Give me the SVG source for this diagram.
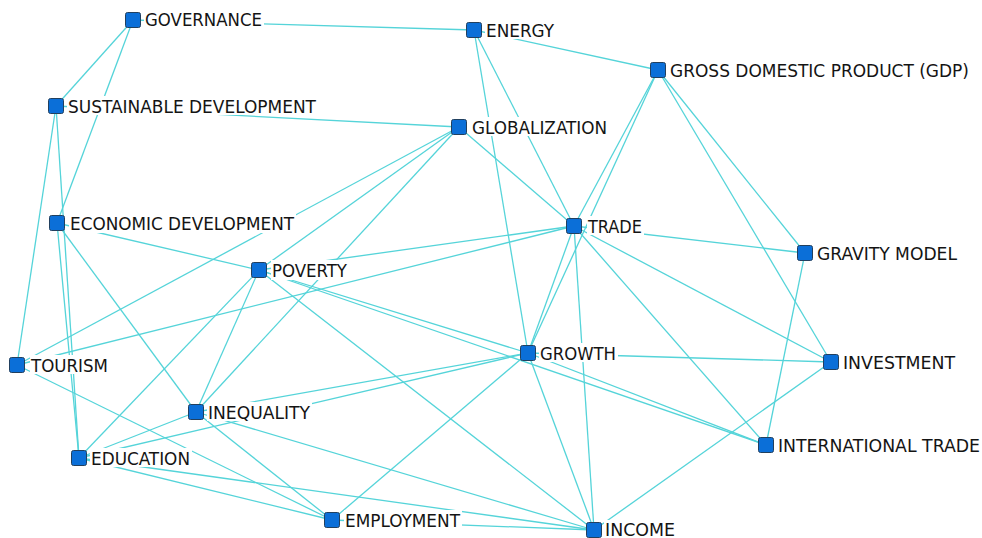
<svg xmlns="http://www.w3.org/2000/svg" width="982" height="538" viewBox="0 0 982 538">
<style>
.edge line{stroke:#55d4d9;stroke-width:1.3;fill:none}
.bg{fill:#ffffff}
.sq{fill:#0b6fd8;stroke:#22405e;stroke-width:1}
.lb{font-family:"DejaVu Sans Condensed","Liberation Sans",Tahoma,Arial,sans-serif;font-size:17.5px;fill:#141414}
</style>
<rect width="982" height="538" fill="#ffffff"/>
<g id="edges" class="edge">
<line x1="133" y1="20" x2="474" y2="30"/>
<line x1="133" y1="20" x2="56" y2="106"/>
<line x1="133" y1="20" x2="57" y2="223"/>
<line x1="56" y1="106" x2="459" y2="127"/>
<line x1="56" y1="106" x2="17" y2="365"/>
<line x1="56" y1="106" x2="79" y2="458"/>
<line x1="474" y1="30" x2="658" y2="70"/>
<line x1="474" y1="30" x2="528" y2="353"/>
<line x1="474" y1="30" x2="574" y2="226"/>
<line x1="459" y1="127" x2="574" y2="226"/>
<line x1="459" y1="127" x2="17" y2="365"/>
<line x1="459" y1="127" x2="259" y2="270"/>
<line x1="459" y1="127" x2="196" y2="412"/>
<line x1="658" y1="70" x2="574" y2="226"/>
<line x1="658" y1="70" x2="528" y2="353"/>
<line x1="658" y1="70" x2="805" y2="253"/>
<line x1="658" y1="70" x2="831" y2="362"/>
<line x1="57" y1="223" x2="259" y2="270"/>
<line x1="57" y1="223" x2="79" y2="458"/>
<line x1="57" y1="223" x2="196" y2="412"/>
<line x1="574" y1="226" x2="259" y2="270"/>
<line x1="574" y1="226" x2="17" y2="365"/>
<line x1="574" y1="226" x2="805" y2="253"/>
<line x1="574" y1="226" x2="831" y2="362"/>
<line x1="574" y1="226" x2="766" y2="445"/>
<line x1="574" y1="226" x2="528" y2="353"/>
<line x1="574" y1="226" x2="594" y2="530"/>
<line x1="528" y1="353" x2="259" y2="270"/>
<line x1="528" y1="353" x2="831" y2="362"/>
<line x1="528" y1="353" x2="766" y2="445"/>
<line x1="528" y1="353" x2="594" y2="530"/>
<line x1="528" y1="353" x2="332" y2="520"/>
<line x1="528" y1="353" x2="196" y2="412"/>
<line x1="528" y1="353" x2="79" y2="458"/>
<line x1="259" y1="270" x2="766" y2="445"/>
<line x1="259" y1="270" x2="594" y2="530"/>
<line x1="259" y1="270" x2="79" y2="458"/>
<line x1="259" y1="270" x2="196" y2="412"/>
<line x1="196" y1="412" x2="79" y2="458"/>
<line x1="196" y1="412" x2="332" y2="520"/>
<line x1="196" y1="412" x2="594" y2="530"/>
<line x1="79" y1="458" x2="332" y2="520"/>
<line x1="79" y1="458" x2="594" y2="530"/>
<line x1="332" y1="520" x2="594" y2="530"/>
<line x1="17" y1="365" x2="332" y2="520"/>
<line x1="805" y1="253" x2="766" y2="445"/>
<line x1="831" y1="362" x2="594" y2="530"/>
</g>
<g id="n-governance"><rect class="bg" x="144" y="10" width="120" height="19"/><rect class="sq" x="125.5" y="12.5" width="15" height="15" rx="2"/><text class="lb" x="145" y="26" textLength="117" lengthAdjust="spacingAndGlyphs">GOVERNANCE</text></g>
<g id="n-sustainable-development"><rect class="bg" x="67" y="96" width="251" height="19"/><rect class="sq" x="48.5" y="98.5" width="15" height="15" rx="2"/><text class="lb" x="68" y="112.5" textLength="248" lengthAdjust="spacingAndGlyphs">SUSTAINABLE DEVELOPMENT</text></g>
<g id="n-energy"><rect class="bg" x="485" y="20" width="71" height="19"/><rect class="sq" x="466.5" y="22.5" width="15" height="15" rx="2"/><text class="lb" x="486" y="36.5" textLength="68" lengthAdjust="spacingAndGlyphs">ENERGY</text></g>
<g id="n-globalization"><rect class="bg" x="471" y="117" width="138" height="19"/><rect class="sq" x="451.5" y="119.5" width="15" height="15" rx="2"/><text class="lb" x="472" y="133.5" textLength="135" lengthAdjust="spacingAndGlyphs">GLOBALIZATION</text></g>
<g id="n-gdp"><rect class="bg" x="669" y="60" width="302" height="19"/><rect class="sq" x="650.5" y="62.5" width="15" height="15" rx="2"/><text class="lb" x="670" y="76.5" textLength="299" lengthAdjust="spacingAndGlyphs">GROSS DOMESTIC PRODUCT (GDP)</text></g>
<g id="n-economic-development"><rect class="bg" x="69" y="213" width="227" height="20"/><rect class="sq" x="49.5" y="215.5" width="15" height="15" rx="2"/><text class="lb" x="70" y="229.5" textLength="224" lengthAdjust="spacingAndGlyphs">ECONOMIC DEVELOPMENT</text></g>
<g id="n-poverty"><rect class="bg" x="271" y="260" width="78" height="20"/><rect class="sq" x="251.5" y="262.5" width="15" height="15" rx="2"/><text class="lb" x="272" y="276.5" textLength="75" lengthAdjust="spacingAndGlyphs">POVERTY</text></g>
<g id="n-trade"><rect class="bg" x="587" y="216" width="57" height="19"/><rect class="sq" x="566.5" y="218.5" width="15" height="15" rx="2"/><text class="lb" x="588" y="232.5" textLength="54" lengthAdjust="spacingAndGlyphs">TRADE</text></g>
<g id="n-gravity-model"><rect class="bg" x="816" y="243" width="143" height="19"/><rect class="sq" x="797.5" y="245.5" width="15" height="15" rx="2"/><text class="lb" x="817" y="259.5" textLength="140" lengthAdjust="spacingAndGlyphs">GRAVITY MODEL</text></g>
<g id="n-growth"><rect class="bg" x="539" y="343" width="79" height="19"/><rect class="sq" x="520.5" y="345.5" width="15" height="15" rx="2"/><text class="lb" x="540" y="359.5" textLength="76" lengthAdjust="spacingAndGlyphs">GROWTH</text></g>
<g id="n-investment"><rect class="bg" x="842" y="352" width="115" height="19"/><rect class="sq" x="823.5" y="354.5" width="15" height="15" rx="2"/><text class="lb" x="843" y="368.5" textLength="112" lengthAdjust="spacingAndGlyphs">INVESTMENT</text></g>
<g id="n-international-trade"><rect class="bg" x="777" y="435" width="205" height="19"/><rect class="sq" x="758.5" y="437.5" width="15" height="15" rx="2"/><text class="lb" x="778" y="451.5" textLength="202" lengthAdjust="spacingAndGlyphs">INTERNATIONAL TRADE</text></g>
<g id="n-tourism"><rect class="bg" x="30" y="355" width="80" height="19"/><rect class="sq" x="9.5" y="357.5" width="15" height="15" rx="2"/><text class="lb" x="31" y="371.5" textLength="77" lengthAdjust="spacingAndGlyphs">TOURISM</text></g>
<g id="n-inequality"><rect class="bg" x="207" y="402" width="105" height="19"/><rect class="sq" x="188.5" y="404.5" width="15" height="15" rx="2"/><text class="lb" x="208" y="418.5" textLength="102" lengthAdjust="spacingAndGlyphs">INEQUALITY</text></g>
<g id="n-education"><rect class="bg" x="90" y="448" width="102" height="19"/><rect class="sq" x="71.5" y="450.5" width="15" height="15" rx="2"/><text class="lb" x="91" y="464.5" textLength="99" lengthAdjust="spacingAndGlyphs">EDUCATION</text></g>
<g id="n-employment"><rect class="bg" x="344" y="510" width="118" height="19"/><rect class="sq" x="324.5" y="512.5" width="15" height="15" rx="2"/><text class="lb" x="345" y="526.5" textLength="115" lengthAdjust="spacingAndGlyphs">EMPLOYMENT</text></g>
<g id="n-income"><rect class="bg" x="604" y="520" width="73" height="18"/><rect class="sq" x="586.5" y="522.5" width="15" height="15" rx="2"/><text class="lb" x="605" y="535.5" textLength="70" lengthAdjust="spacingAndGlyphs">INCOME</text></g>
</svg>
